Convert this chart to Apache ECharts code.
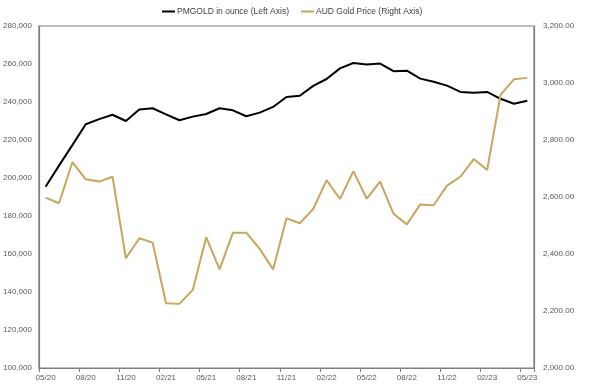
<!DOCTYPE html>
<html>
<head>
<meta charset="utf-8">
<script src="https://cdn.jsdelivr.net/npm/echarts@6/dist/echarts.min.js"></script>
<style>
html,body{margin:0;padding:0;background:#fff;}
#chart{width:597px;height:392px;}
</style>
</head>
<body>
<div id="chart"></div>
<script>
var categories = ["05/20","06/20","07/20","08/20","09/20","10/20","11/20","12/20","01/21","02/21","03/21","04/21","05/21","06/21","07/21","08/21","09/21","10/21","11/21","12/21","01/22","02/22","03/22","04/22","05/22","06/22","07/22","08/22","09/22","10/22","11/22","12/22","01/23","02/23","03/23","04/23","05/23"];
var pmgold = [195400,206500,217300,228300,231000,233300,230000,236100,236700,233500,230400,232300,233700,236700,235600,232500,234400,237400,242600,243300,248500,252100,257700,260500,259700,260200,256200,256500,252300,250700,248600,245300,244900,245300,241700,239100,240700];
var audGold = [2598,2578,2722,2662,2654,2671,2385,2455,2440,2227,2225,2274,2459,2346,2475,2475,2418,2346,2525,2508,2558,2659,2593,2691,2594,2654,2541,2504,2574,2571,2640,2671,2733,2695,2958,3013,3018];
var seriesNames = ["PMGOLD in ounce (Left Axis)", "AUD Gold Price (Right Axis)"];

var font = "'Liberation Sans', Arial, sans-serif";
var chart = echarts.init(document.getElementById('chart'), null, {renderer: 'canvas'});
function fmt(v, d) {
  return Number(v).toLocaleString('en-US', {minimumFractionDigits: d, maximumFractionDigits: d});
}
chart.setOption({
  animation: false,
  backgroundColor: '#ffffff',
  legend: {
    left: 157, top: 2,
    itemWidth: 13, itemHeight: 2, itemGap: 12,
    icon: 'rect',
    textStyle: {fontFamily: font, fontSize: 8.5, color: '#404040', padding: [0,0,0,-3]},
    data: seriesNames
  },
  grid: {left: 35, right: 63, top: 26, bottom: 24, show: true, borderColor: '#808080', borderWidth: 1.2, containLabel: false},
  xAxis: {
    type: 'category', data: categories, boundaryGap: true,
    axisLine: {show: true, lineStyle: {color: '#808080', width: 1.2}},
    axisTick: {show: true, interval: 2, length: 4, lineStyle: {color: '#808080'}},
    axisLabel: {interval: 2, fontFamily: font, fontSize: 8, color: '#595959', margin: 6},
    splitLine: {show: false}
  },
  yAxis: [{
    type: 'value', min: 100000, max: 280000, interval: 20000, position: 'left',
    axisLine: {show: true, lineStyle: {color: '#808080', width: 1.2}},
    axisTick: {show: false},
    axisLabel: {fontFamily: font, fontSize: 8, color: '#595959', margin: 7, formatter: function(v){return fmt(v,0);}},
    splitLine: {show: false}
  }, {
    type: 'value', min: 2000, max: 3200, interval: 200, position: 'right',
    axisLine: {show: true, lineStyle: {color: '#808080', width: 1.2}},
    axisTick: {show: false},
    axisLabel: {fontFamily: font, fontSize: 8, color: '#595959', margin: 9, formatter: function(v){return fmt(v,2);}},
    splitLine: {show: false}
  }],
  series: [{
    name: seriesNames[0], type: 'line', yAxisIndex: 0, data: pmgold,
    showSymbol: false, symbol: 'none',
    lineStyle: {color: '#000000', width: 2},
    itemStyle: {color: '#000000'}
  }, {
    name: seriesNames[1], type: 'line', yAxisIndex: 1, data: audGold,
    showSymbol: false, symbol: 'none',
    lineStyle: {color: '#C9A55E', width: 2},
    itemStyle: {color: '#C9A55E'}
  }]
});
</script>
</body>
</html>
